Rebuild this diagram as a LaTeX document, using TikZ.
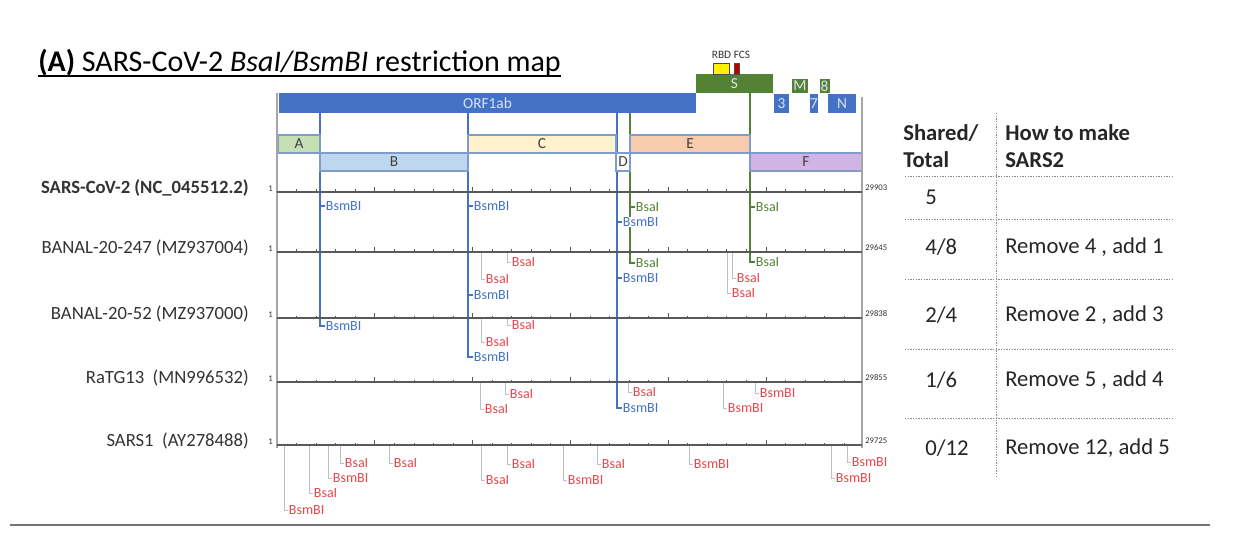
\documentclass[tikz,border=0pt]{standalone}
\usepackage{fontspec}
\setmainfont{Carlito}

\definecolor{orfblue}{HTML}{4472C4}
\definecolor{genegreen}{HTML}{548235}
\definecolor{sitered}{HTML}{E8474D}
\definecolor{axisgray}{HTML}{595959}
\definecolor{fragedge}{HTML}{7F9CCB}
\definecolor{fragA}{HTML}{C5E0B4}
\definecolor{fragB}{HTML}{BDD7EE}
\definecolor{fragC}{HTML}{FFF2CC}
\definecolor{fragE}{HTML}{F8CBAD}
\definecolor{fragF}{HTML}{D0B4E6}
\definecolor{fcsred}{HTML}{C00000}

\newcommand{\pxu}{0.75pt}
\pgfdeclarelayer{bg}
\pgfsetlayers{bg,main}

\begin{document}
\begin{tikzpicture}[
        x=0.75pt, y=-0.75pt,
        gene/.style={rectangle, inner sep=0pt, text=white!80!orfblue, font=\fontsize{11.5}{13}\selectfont},
        frag/.style={rectangle, draw=fragedge, line width=0.8pt, inner sep=0pt, minimum height=18*\pxu, text=black!75, font=\fontsize{11.5}{13}\selectfont},
        rowlabel/.style={anchor=east, inner sep=0pt, text=black!80, font=\fontsize{14}{16}\selectfont},
        endlabel/.style={inner sep=0pt, text=black!80, font=\fontsize{6.5}{7}\selectfont},
        axis/.style={axisgray, line width=1.1pt},
        shared/.style={line width=1.5pt},
        site/.style={anchor=west, inner sep=0.5pt, fill=white, font=\fontsize{10.5}{12}\selectfont},
        redtick/.style={black!25, line width=0.6pt},
        tabletext/.style={anchor=west, inner sep=0pt, text=black!85, font=\fontsize{17}{20}\selectfont},
        tablerule/.style={black!45, line width=0.6pt, dash pattern=on 1pt off 1pt}
    ]

    \begin{pgfonlayer}{bg}
        \fill[white] (0,0) rectangle (1244,534);
    \end{pgfonlayer}
    \useasboundingbox (0,0) rectangle (1244,534);

    % Title
    \node[anchor=base west, inner sep=0pt, font=\fontsize{22.5}{27}\selectfont] (title) at (38,72) {\textbf{(A)} SARS-CoV-2 \textit{BsaI/BsmBI} restriction map};
    \draw[line width=1.2pt] ([yshift=-3pt]title.base west) -- ([yshift=-3pt]title.base east);

    % Genome annotation
    \node[gene, fill=orfblue, minimum width=417*\pxu, minimum height=20*\pxu] (orf1ab) at (487.5,103) {ORF1ab};
    \node[gene, fill=genegreen, minimum width=77*\pxu, minimum height=19*\pxu] (geneS) at (734.5,83.5) {S};
    \node[gene, fill=genegreen, minimum width=16*\pxu, minimum height=14*\pxu] (geneM) at (800,86) {M};
    \node[gene, fill=genegreen, minimum width=10*\pxu, minimum height=14*\pxu] (gene8) at (824.5,86) {8};
    \node[gene, fill=orfblue, minimum width=15*\pxu, minimum height=19*\pxu] (gene3) at (781.5,103.5) {3};
    \node[gene, fill=orfblue, minimum width=8*\pxu, minimum height=19*\pxu] (gene7) at (814,103.5) {7};
    \node[gene, fill=orfblue, minimum width=28*\pxu, minimum height=19*\pxu] (geneN) at (842,103.5) {N};
    \node[draw=black!70, fill=yellow, line width=0.5pt, inner sep=0pt, minimum width=16*\pxu, minimum height=11*\pxu] (rbd) at (721,68.5) {};
    \node[draw=black!70, fill=fcsred, line width=0.5pt, inner sep=0pt, minimum width=5*\pxu, minimum height=11*\pxu] (fcs) at (736.5,68.5) {};
    \node[inner sep=0pt, text=black!80, font=\fontsize{8.5}{9}\selectfont] (rbdfcs) at (731,55) {RBD FCS};

    % Fragments
    \node[frag, fill=fragA, minimum width=42*\pxu] (fragA) at (299,144) {A};
    \node[frag, fill=fragB, minimum width=148*\pxu] (fragB) at (394,162) {B};
    \node[frag, fill=fragC, minimum width=148*\pxu] (fragC) at (542,144) {C};
    \node[frag, fill=white, minimum width=14*\pxu] (fragD) at (623,162) {D};
    \node[frag, fill=fragE, minimum width=120*\pxu] (fragE) at (690,144) {E};
    \node[frag, fill=fragF, minimum width=112*\pxu] (fragF) at (806,162) {F};

    % Frame
    \draw[black!35, line width=1.2pt] (277,93) -- (277,448);
    \draw[black!35, line width=1.2pt] (862,97) -- (862,448);

    % Genomes
    \foreach \y/\len/\lbl [count=\r] in {192/29903/{\textbf{SARS-CoV-2 (NC\_045512.2)}}, 252/29645/{BANAL-20-247 (MZ937004)}, 318/29838/{BANAL-20-52 (MZ937000)}, 382/29855/{RaTG13\ \ (MN996532)}, 445/29725/{SARS1\ \ (AY278488)}} {
        \node[rowlabel] (name\r) at (249,\y-4) {\lbl};
        \coordinate (axL\r) at (277,\y);
        \coordinate (axR\r) at (862,\y);
        \draw[axis] (axL\r) -- (axR\r);
        \node[endlabel, anchor=east] (start\r) at (273,\y-3) {1};
        \node[endlabel, anchor=west] (end\r) at (865,\y-4) {\len};
        \foreach \k in {1,...,29} {
            \pgfmathsetmacro\tl{mod(\k,5)==0 ? 5 : 2.5}
            \draw[axisgray, line width=0.6pt] (277+\k*19.56,\y) -- ++(0,-\tl);
        }
    }

    % Sites shared with SARS-CoV-2
    \coordinate (bsmtop1) at (320,113);
    \coordinate (bsmtop2) at (468,113);
    \coordinate (bsmtop3) at (617,113);
    \coordinate (bsatop1) at (630,113);
    \coordinate (bsatop2) at (750,93);

    \node[site, text=orfblue] (bsm1a) at (325,206) {BsmBI};
    \node[site, text=orfblue] (bsm1b) at (325,326) {BsmBI};
    \node[site, text=orfblue] (bsm2a) at (473,206) {BsmBI};
    \node[site, text=orfblue] (bsm2b) at (473,295) {BsmBI};
    \node[site, text=orfblue] (bsm2c) at (473,357) {BsmBI};
    \node[site, text=orfblue] (bsm3a) at (622,222) {BsmBI};
    \node[site, text=orfblue] (bsm3b) at (622,278) {BsmBI};
    \node[site, text=orfblue] (bsm3c) at (622,408) {BsmBI};
    \node[site, text=genegreen] (bsa1a) at (635,207) {BsaI};
    \node[site, text=genegreen] (bsa1b) at (635,263) {BsaI};
    \node[site, text=genegreen] (bsa2a) at (755,207) {BsaI};
    \node[site, text=genegreen] (bsa2b) at (755,262) {BsaI};

    \begin{pgfonlayer}{bg}
        \draw[shared, orfblue] (bsmtop1) |- (bsm1b.west);
        \draw[shared, orfblue] (bsmtop1 |- bsm1a.west) -- (bsm1a.west);
        \draw[shared, orfblue] (bsmtop2) |- (bsm2c.west);
        \draw[shared, orfblue] (bsmtop2 |- bsm2a.west) -- (bsm2a.west);
        \draw[shared, orfblue] (bsmtop2 |- bsm2b.west) -- (bsm2b.west);
        \draw[shared, orfblue] (bsmtop3) |- (bsm3c.west);
        \draw[shared, orfblue] (bsmtop3 |- bsm3a.west) -- (bsm3a.west);
        \draw[shared, orfblue] (bsmtop3 |- bsm3b.west) -- (bsm3b.west);
        \draw[shared, genegreen] (bsatop1) |- (bsa1b.west);
        \draw[shared, genegreen] (bsatop1 |- bsa1a.west) -- (bsa1a.west);
        \draw[shared, genegreen] (bsatop2) |- (bsa2b.west);
        \draw[shared, genegreen] (bsatop2 |- bsa2a.west) -- (bsa2a.west);
    \end{pgfonlayer}

    % Sites not in SARS-CoV-2
    \foreach \x/\ay/\y/\t [count=\i] in {
        481/252/279/BsaI, 507/252/262/BsaI, 727/252/293/BsaI, 732/252/278/BsaI,
        481/318/342/BsaI, 507/318/325/BsaI,
        480/382/409/BsaI, 505/382/394/BsaI, 628/382/392/BsaI, 723/382/408/BsmBI, 755/382/393/BsmBI,
        284/445/510/BsmBI, 309/445/493/BsaI, 328/445/478/BsmBI, 340/445/463/BsaI, 389/445/463/BsaI,
        481/445/480/BsaI, 507/445/464/BsaI, 563/445/480/BsmBI, 597/445/464/BsaI, 689/445/464/BsmBI,
        831/445/478/BsmBI, 847/445/462/BsmBI} {
        \coordinate (redtop\i) at (\x,\ay);
        \node[site, text=sitered] (red\i) at (\x+4,\y) {\t};
        \begin{pgfonlayer}{bg}
            \draw[redtick] (redtop\i) |- (red\i.west);
        \end{pgfonlayer}
    }

    % Table
    \node[tabletext, font=\bfseries\fontsize{17}{20}\selectfont, align=left] (hshared) at (903,146) {Shared/\\Total};
    \node[tabletext, font=\bfseries\fontsize{17}{20}\selectfont, align=left] (hhow) at (1005,146) {How to make\\SARS2};
    \foreach \y/\n/\how [count=\r] in {197/5/{}, 247/{4/8}/{Remove 4 , add 1}, 315/{2/4}/{Remove 2 , add 3}, 380/{1/6}/{Remove 5 , add 4}, 448/{0/12}/{Remove 12, add 5}} {
        \node[tabletext] (share\r) at (925,\y) {\n};
        \node[tabletext] (how\r) at (1005,\y) {\how};
    }
    \foreach \y in {176,219,279,349,418} {
        \draw[tablerule] (905,\y) -- (1172,\y);
    }
    \draw[tablerule] (996,113) -- (996,478);

    \draw[black!55, line width=1pt] (10,525) -- (1210,525);

\end{tikzpicture}
\end{document}
